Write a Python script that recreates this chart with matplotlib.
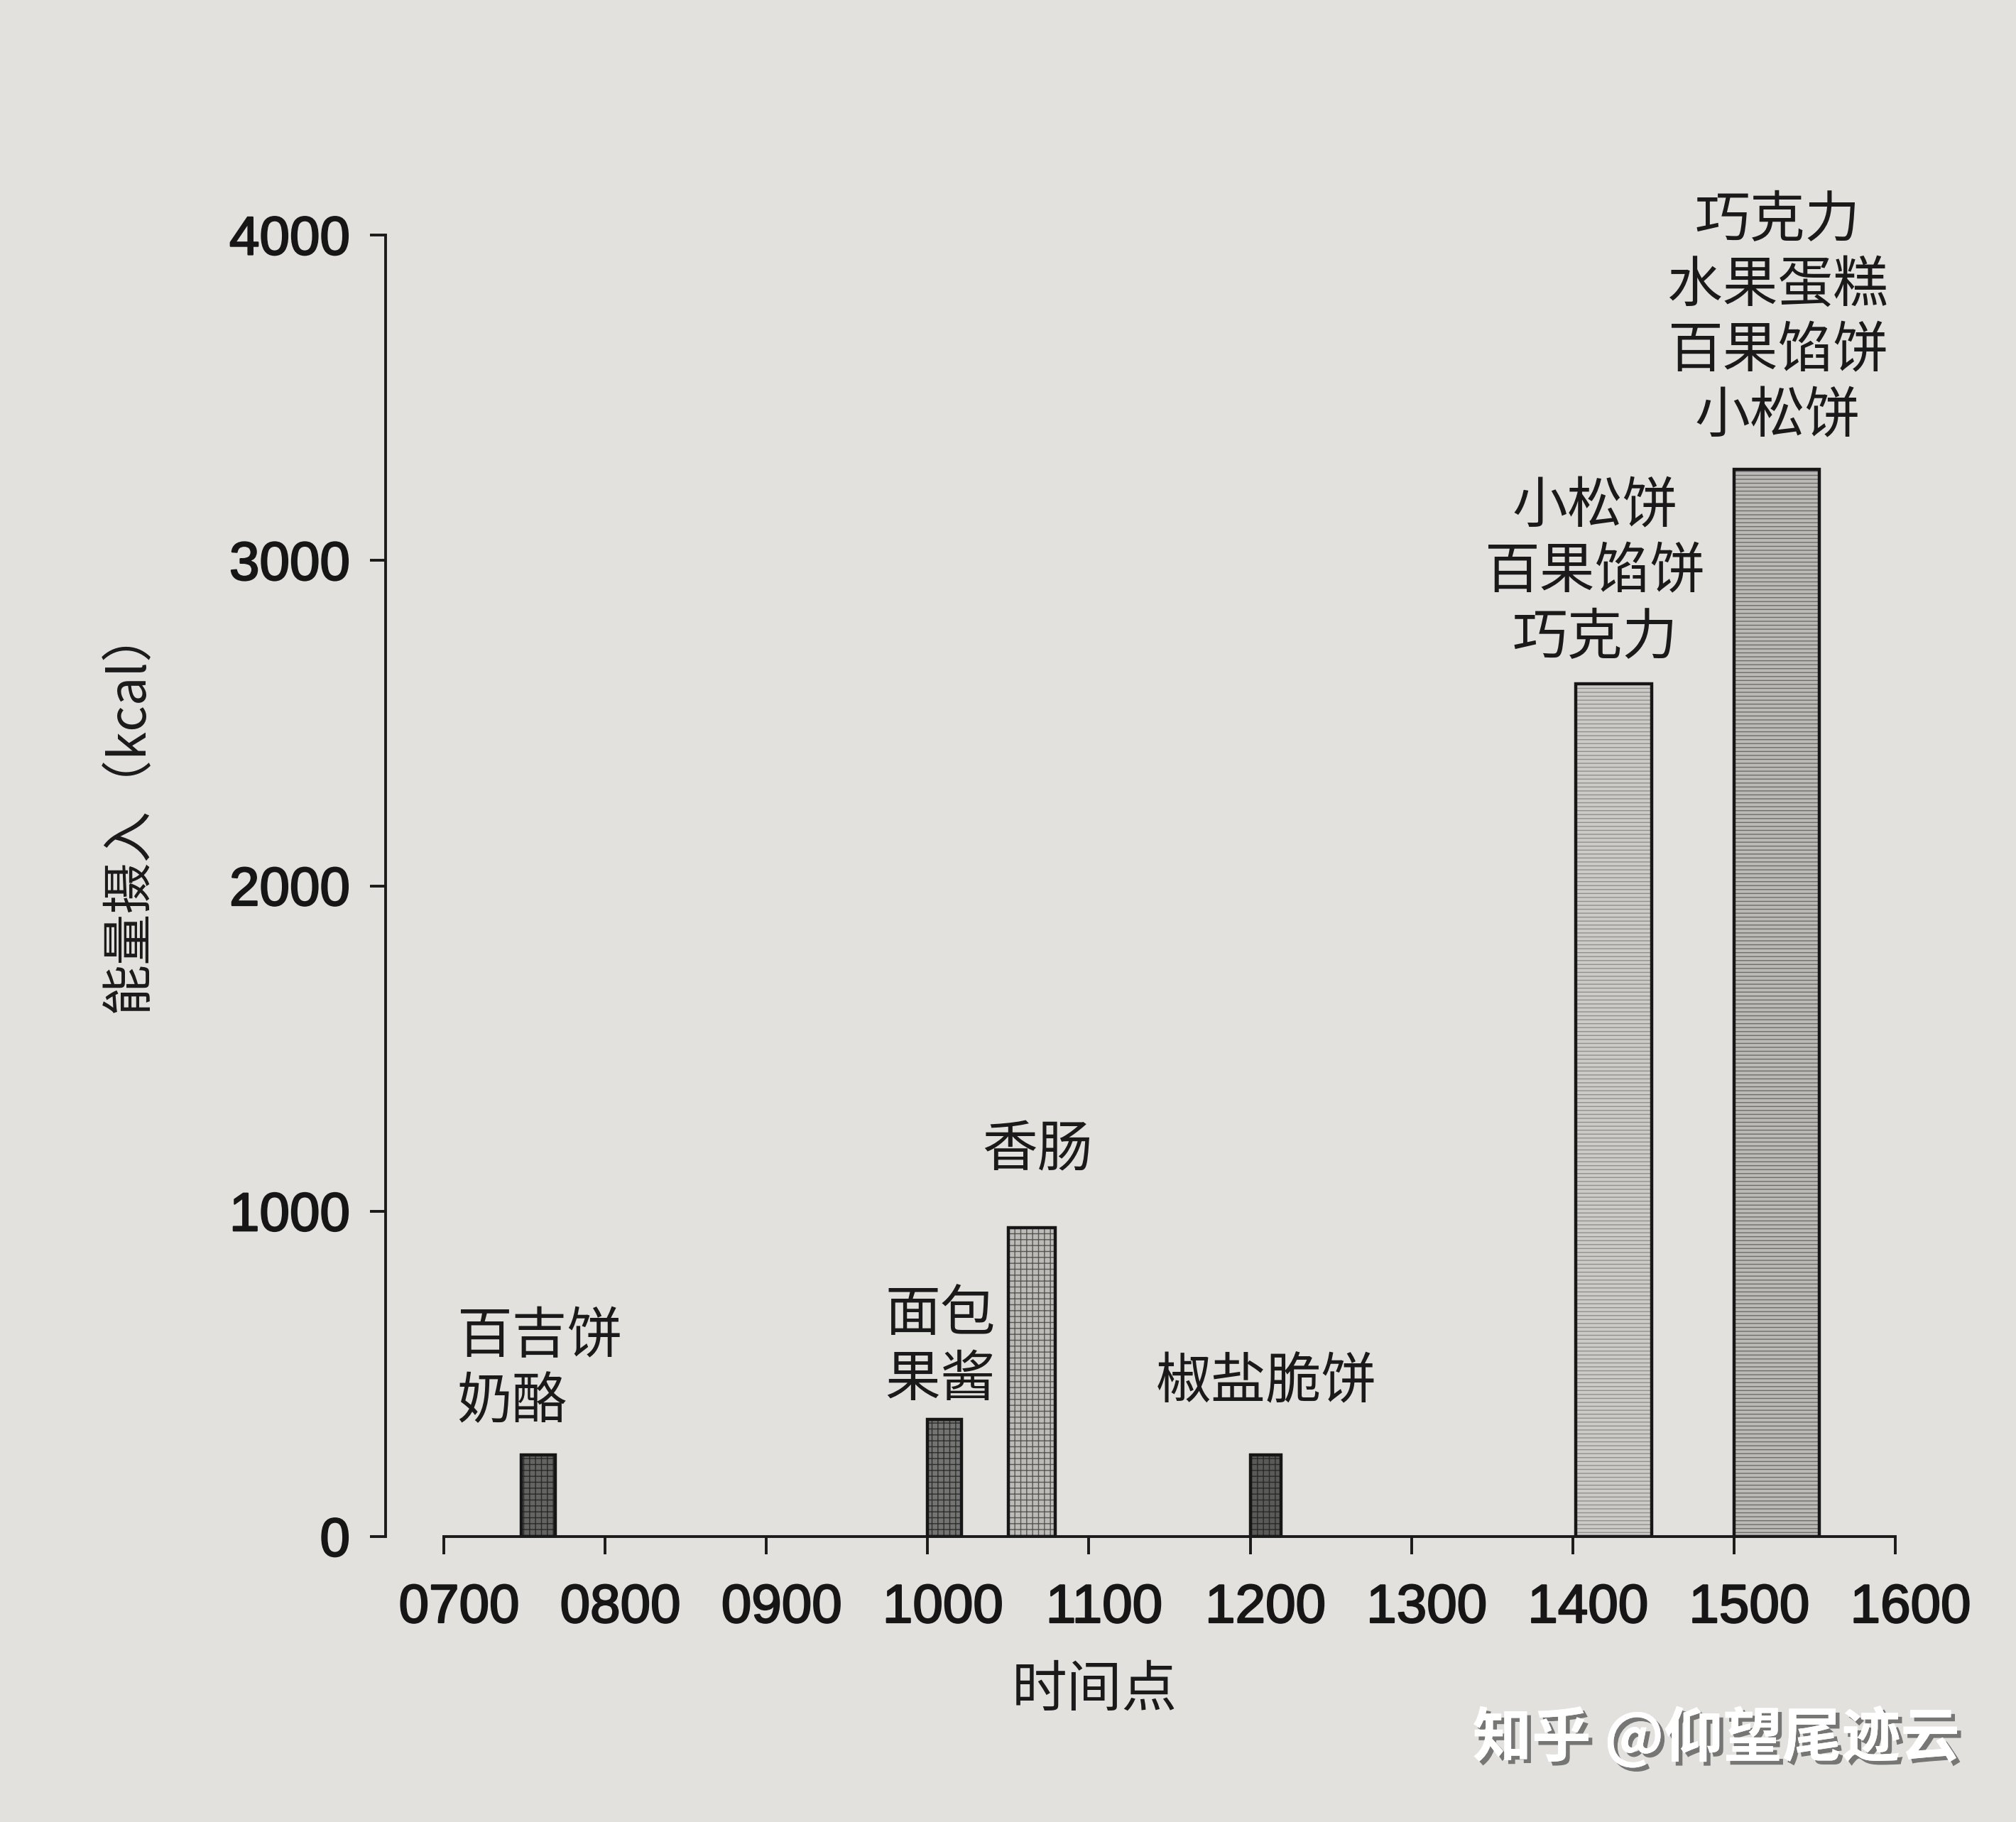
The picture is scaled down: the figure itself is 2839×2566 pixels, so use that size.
import matplotlib
matplotlib.use("Agg")
import matplotlib.pyplot as plt
import matplotlib.patheffects as pe

plt.rcParams['font.family'] = ['Noto Sans CJK SC', 'DejaVu Sans']
plt.rcParams['hatch.linewidth'] = 1.0

# ---- data ----
bar_start_hours = [7.48, 10.0, 10.5, 12.0, 14.02, 15.0]
bar_durations = [0.21, 0.21, 0.29, 0.19, 0.47, 0.53]
energy_kcal = [250, 360, 950, 250, 2620, 3280]
food_labels = [
    "百吉饼\n奶酪",
    "面包\n果酱",
    "香肠",
    "椒盐脆饼",
    "小松饼\n百果馅饼\n巧克力",
    "巧克力\n水果蛋糕\n百果馅饼\n小松饼",
]
x_ticks = [7, 8, 9, 10, 11, 12, 13, 14, 15, 16]
x_tick_labels = ["0700", "0800", "0900", "1000", "1100", "1200", "1300", "1400", "1500", "1600"]
y_ticks = [0, 1000, 2000, 3000, 4000]
x_label = "时间点"
y_label = "能量摄入（kcal）"
watermark = "知乎 @仰望尾迹云"

# ---- style / layout ----
face_colors = ['#646462', '#747472', '#bcbbb7', '#5a5a58', '#cccbc7', '#bbbab6']
hatch_colors = ['#2a2a2a', '#2e2e2e', '#555553', '#2a2a2a', '#90908c', '#6e6d6a']
hatches = ['++', '++', '++', '++', '---', '---']
# label anchor: (x, y of first line, horizontal alignment)
label_anchor = [
    (7.08, 613, 'left'),
    (10.077, 680, 'center'),
    (10.68, 1186, 'center'),
    (12.10, 474, 'center'),
    (14.137, 3162, 'center'),
    (15.27, 4043, 'center'),
]
line_step = 201
xlabel_shift = 0.095  # hours; tick labels sit slightly right of their ticks

bg = '#e3e1dd'
W, H = 2839, 2566
fig = plt.figure(figsize=(W / 100, H / 100), dpi=100, facecolor=bg)
ax = fig.add_axes([543 / W, 1 - 2164 / H, (2669 - 543) / W, (2164 - 331) / H])
ax.set_facecolor('none')

for s, d, e, fc, hc, ht in zip(bar_start_hours, bar_durations, energy_kcal,
                                face_colors, hatch_colors, hatches):
    ax.bar(s, e, width=d, align='edge', color=fc, edgecolor=hc, hatch=ht,
           linewidth=0, zorder=2)
    ax.bar(s, e, width=d, align='edge', fill=False, edgecolor='#161616',
           linewidth=3.2, zorder=3)

ax.set_xlim(6.639, 16.0)
ax.set_ylim(0, 4000)
ax.spines['top'].set_visible(False)
ax.spines['right'].set_visible(False)
ax.spines['left'].set_bounds(0, 4000)
ax.spines['bottom'].set_bounds(7, 16)
for sp in ['left', 'bottom']:
    ax.spines[sp].set_linewidth(2.8)
    ax.spines[sp].set_color('#1a1a1a')
    ax.spines[sp].set_zorder(4)

num_kw = dict(fontfamily=['Liberation Sans', 'DejaVu Sans'], fontsize=55,
              color='#161616',
              path_effects=[pe.withStroke(linewidth=1.6, foreground='#161616')])

ax.set_xticks(x_ticks)
ax.set_xticklabels([])
for xt, lab in zip(x_ticks, x_tick_labels):
    ax.text(xt + xlabel_shift, -0.066, lab, transform=ax.get_xaxis_transform(),
            ha='center', va='baseline', clip_on=False, **num_kw)

ax.set_yticks(y_ticks)
ax.set_yticklabels([str(v) for v in y_ticks])
for lab in ax.get_yticklabels():
    lab.set_fontfamily(['Liberation Sans', 'DejaVu Sans'])
    lab.set_fontsize(55)
    lab.set_color('#161616')
    lab.set_path_effects([pe.withStroke(linewidth=1.6, foreground='#161616')])
ax.tick_params(axis='x', length=18, width=2.8, pad=20, color='#1a1a1a')
ax.tick_params(axis='y', length=16, width=2.8, pad=20, color='#1a1a1a')

for lab, (lx, ly, ha) in zip(food_labels, label_anchor):
    for i, line in enumerate(lab.split('\n')):
        ax.text(lx, ly - i * line_step, line, ha=ha, va='center',
                fontsize=56, color='#1a1a1a', zorder=5)

fig.text(1541 / W, 1 - 2381 / H, x_label, ha='center', va='center',
         fontsize=56, color='#1a1a1a')
fig.text(181 / W, 1 - 1140 / H, y_label, ha='center', va='center',
         rotation=90, fontsize=52, color='#1a1a1a')

fig.text(2417 / W, 1 - 2448 / H, watermark, ha='center', va='center',
         fontsize=60, color='white', weight='bold',
         path_effects=[pe.withSimplePatchShadow(offset=(4, -4),
                                                shadow_rgbFace='#6a6a6a',
                                                alpha=0.9),
                       pe.Normal()])

fig.savefig('out.png', dpi=100, facecolor=bg)
